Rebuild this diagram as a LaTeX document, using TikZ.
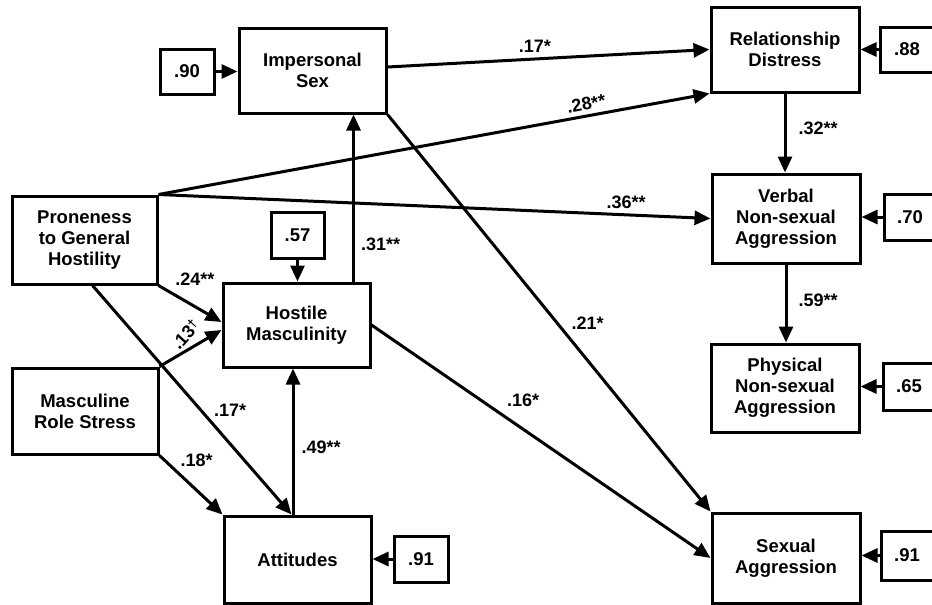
\documentclass[tikz,border=0pt]{standalone}
\usepackage{fontspec}
\setmainfont{Liberation Sans}
\usetikzlibrary{arrows.meta}
\begin{document}
\begin{tikzpicture}[x=1pt,y=-1pt,
  box/.style={draw, line width=3pt, inner sep=0pt, align=center,
    font=\bfseries\fontsize{18.5}{21}\selectfont},
  lab/.style={font=\bfseries\fontsize{18}{18}\selectfont, inner sep=1pt},
  arr/.style={line width=3pt, -{Triangle[length=16pt,width=14pt]}}]
\useasboundingbox (0,0) rectangle (932,605);
\fill[white] (0,0) rectangle (932,605);
% main boxes
\node[box, minimum width=147pt, minimum height=85pt] (imp) at (312.5,70.5) {Impersonal\\Sex};
\node[box, minimum width=145pt, minimum height=88pt] (pron) at (84.5,240) {Proneness\\to General\\Hostility};
\node[box, minimum width=147pt, minimum height=84pt] (host) at (296.5,325) {Hostile\\Masculinity};
\node[box, minimum width=146pt, minimum height=86pt] (mrs) at (85,411) {Masculine\\Role Stress};
\node[box, minimum width=147pt, minimum height=87pt] (att) at (297.5,559.5) {Attitudes};
\node[box, minimum width=148pt, minimum height=85pt] (rd) at (785,49.5) {Relationship\\Distress};
\node[box, minimum width=148pt, minimum height=89pt] (verb) at (786,218.5) {Verbal\\Non-sexual\\Aggression};
\node[box, minimum width=148pt, minimum height=88pt] (phys) at (785,388) {Physical\\Non-sexual\\Aggression};
\node[box, minimum width=148pt, minimum height=90pt] (sex) at (786,558) {Sexual\\Aggression};
% residual boxes
\node[box, minimum width=54pt, minimum height=45pt] (e90) at (187,71.5) {.90};
\node[box, minimum width=53pt, minimum height=46pt] (e57) at (297.5,235) {.57};
\node[box, minimum width=54pt, minimum height=46pt] (e91a) at (421,559) {.91};
\node[box, minimum width=54pt, minimum height=45pt] (e88) at (907,49.5) {.88};
\node[box, minimum width=52pt, minimum height=46pt] (e70) at (910,217) {.70};
\node[box, minimum width=52pt, minimum height=47pt] (e65) at (909,386.5) {.65};
\node[box, minimum width=52pt, minimum height=49pt] (e91b) at (907,555.5) {.91};
% residual arrows
\draw[arr] (e90.east) -- (e90.east -| imp.west);
\draw[arr] (e57.south) -- (e57.south |- host.north);
\draw[arr] (e91a.west) -- (e91a.west -| att.east);
\draw[arr] (e88.west) -- (e88.west -| rd.east);
\draw[arr] (e70.west) -- (e70.west -| verb.east);
\draw[arr] (e65.west) -- (e65.west -| phys.east);
\draw[arr] (e91b.west) -- (e91b.west -| sex.east);
% paths
\draw[arr] ([yshift=3.5pt]imp.east) -- (rd.west) node[lab, pos=0.458, above=4pt] {.17*};
\draw[arr] (pron.north east) -- (rd.south west) node[lab, pos=0.78, sloped, above=3pt] {.28**};
\draw[arr] (pron.north east) -- (verb.west) node[lab, pos=0.847, above=4pt] {.36**};
\draw[arr] (rd.south) -- (rd.south |- verb.north) node[lab, pos=0.44, right=11pt] {.32**};
\draw[arr] (verb.south) -- (verb.south |- phys.north) node[lab, pos=0.46, right=10pt] {.59**};
\draw[arr] (imp.south east) -- (sex.north west) node[lab, pos=0.525, right=12pt] {.21*};
\draw[arr] (host.east) -- (sex.west) node[lab, pos=0.447, above=20pt] {.16*};
\draw[arr] ([xshift=-18pt]host.north east) -- ([xshift=-18pt]host.north east |- imp.south) node[lab, pos=0.22, right=5pt] {.31**};
\draw[arr] (pron.south east) -- ([yshift=3pt]host.west) node[lab, pos=0.576, above=19pt] {.24**};
\draw[arr] (mrs.north east) -- ([yshift=-5pt]host.west) node[lab, pos=0.415, yshift=17pt, rotate=48] {.13\raisebox{0.45ex}{\fontsize{13}{13}\selectfont †}};
\draw[arr] ([xshift=8pt]pron.south) -- ([xshift=-6pt]att.north) node[lab, pos=0.543, right=11pt] {.17*};
\draw[arr] (mrs.south east) -- (att.north west) node[lab, pos=0.59, above=21pt] {.18*};
\draw[arr] ([xshift=-4.5pt]att.north) -- ([xshift=-4.5pt]att.north |- host.south) node[lab, pos=0.463, right=6pt] {.49**};
\end{tikzpicture}
\end{document}
